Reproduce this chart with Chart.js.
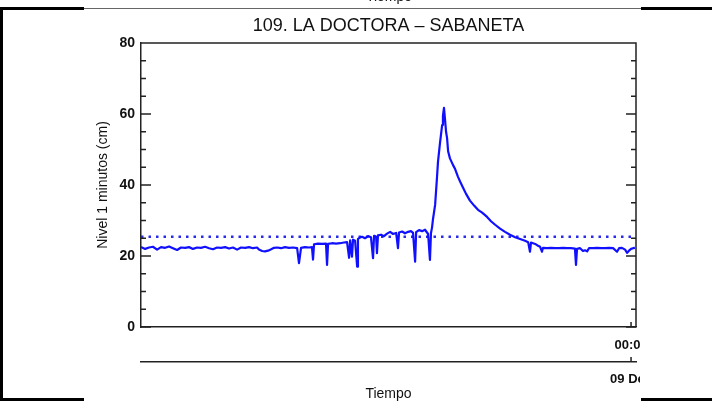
<!DOCTYPE html>
<html lang="es">
<head>
<meta charset="UTF-8">
<title>109. LA DOCTORA - SABANETA</title>
<script src="https://cdn.jsdelivr.net/npm/chart.js"></script>
<style>
    body { margin: 0; background: #fff; overflow: hidden; }
    #page { position: relative; width: 712px; height: 402px; font-family: "Liberation Sans", Arial, sans-serif; }
    #clip { position: absolute; left: 0; top: 0; width: 640px; height: 402px; overflow: hidden; }
    .bar { position: absolute; background: #000; }
    .thin { position: absolute; background: #666; }
    #prevTitle { position: absolute; top: -12px; left: 389px; transform: translateX(-50%); font-size: 14px; color: #111; }
</style>
</head>
<body>
<div id="page">
    <div id="clip"><canvas id="levelChart" width="712" height="402"></canvas></div>
    <!-- leftovers of the panel above / frame -->
    <div id="prevTitle">Tiempo</div>
    <div class="bar" style="left:0;top:7px;width:3px;height:394px"></div>
    <div class="bar" style="left:0;top:7px;width:84px;height:3px"></div>
    <div class="thin" style="left:84px;top:8px;width:557px;height:1px"></div>
    <div class="bar" style="left:641px;top:7px;width:71px;height:3px"></div>
    <div class="bar" style="left:0;top:398px;width:84px;height:3px"></div>
    <div class="bar" style="left:641px;top:398px;width:71px;height:3px"></div>
</div>

<script>
    // time in hours relative to 09 Dec 00:00
    const times = [
        -23.76, -23.56, -23.37, -23.18, -22.98, -22.79, -22.59, -22.40, -22.21, -22.01,
        -21.82, -21.62, -21.43, -21.24, -21.04, -20.85, -20.65, -20.46, -20.27, -20.07,
        -19.88, -19.68, -19.49, -19.30, -19.10, -18.91, -18.71, -18.52, -18.33, -18.13,
        -18.04, -17.89, -17.75, -17.60, -17.45, -17.31, -17.16, -16.97, -16.78, -16.58,
        -16.39, -16.19, -16.10, -16.00, -15.81, -15.61, -15.47, -15.42, -15.37, -15.18,
        -14.98, -14.79, -14.74, -14.69, -14.50, -14.30, -14.11, -13.92, -13.77, -13.67,
        -13.62, -13.53, -13.48, -13.38, -13.28, -13.24, -13.14, -13.04, -12.90, -12.75,
        -12.61, -12.51, -12.46, -12.36, -12.32, -12.27, -12.12, -11.98, -11.83, -11.68,
        -11.54, -11.39, -11.30, -11.25, -11.10, -10.96, -10.81, -10.67, -10.57, -10.47,
        -10.42, -10.28, -10.13, -9.99, -9.84, -9.75, -9.70, -9.65, -9.60, -9.50,
        -9.41, -9.36, -9.26, -9.16, -9.12, -9.07, -9.02, -8.97, -8.92, -8.87,
        -8.78, -8.63, -8.53, -8.39, -8.29, -8.15, -8.00, -7.81, -7.61, -7.42,
        -7.22, -6.98, -6.79, -6.59, -6.35, -6.11, -5.87, -5.62, -5.38, -5.14,
        -4.99, -4.90, -4.85, -4.65, -4.51, -4.41, -4.32, -4.27, -4.07, -3.88,
        -3.68, -3.49, -3.30, -3.10, -2.91, -2.72, -2.67, -2.62, -2.47, -2.33,
        -2.23, -2.13, -2.04, -1.84, -1.65, -1.45, -1.26, -1.07, -0.87, -0.68,
        -0.58, -0.44, -0.29, -0.19, -0.10, 0.00, 0.10, 0.19
    ];
    // nivel (cm)
    const levels = [
        22.5, 22.0, 22.4, 22.6, 21.8, 22.5, 22.3, 22.7, 22.2, 21.7,
        22.4, 22.3, 22.5, 22.0, 22.4, 22.3, 22.6, 22.2, 21.9, 22.4,
        22.3, 22.5, 22.1, 22.4, 21.8, 22.4, 22.3, 22.5, 22.2, 22.4,
        21.8, 21.4, 21.3, 21.5, 21.9, 22.3, 22.4, 22.2, 22.5, 22.3,
        22.4, 22.2, 18.0, 22.3, 22.5, 22.4, 22.5, 19.0, 23.3, 23.5,
        23.4, 23.5, 17.5, 23.4, 23.6, 23.5, 23.6, 23.8, 23.9, 19.5,
        24.4, 19.8, 24.6, 24.3, 17.0, 24.8, 25.2, 25.4, 25.0, 25.6,
        25.3, 19.4, 25.7, 25.4, 20.8, 25.8, 26.0, 25.6, 26.3, 26.8,
        26.2, 26.5, 22.2, 26.6, 26.9, 26.4, 26.8, 27.0, 26.5, 18.4,
        26.7, 27.3, 27.0, 27.4, 26.2, 18.9, 26.5, 28.0, 30.5, 34.4,
        42.0, 46.6, 52.0, 56.9, 59.5, 61.7, 58.5, 55.0, 53.2, 49.5,
        47.5, 45.6, 44.5, 42.3, 41.0, 39.3, 37.5, 35.6, 34.2, 33.0,
        32.2, 31.0, 29.8, 28.8, 27.7, 26.8, 26.0, 25.3, 24.8, 24.3,
        23.9, 21.2, 23.8, 23.4, 22.9, 22.6, 21.2, 22.3, 22.2, 22.3,
        22.2, 22.2, 22.3, 22.2, 22.2, 22.1, 17.5, 22.0, 22.2, 21.4,
        21.6, 21.3, 22.2, 22.2, 22.3, 22.2, 22.2, 22.3, 22.2, 21.2,
        22.2, 22.3, 21.8, 20.9, 21.5, 22.0, 22.2, 22.3
    ];
    const threshold = 25.4;
    const xMin = -23.76, xMax = 0.24;
    const yTicks = [0, 20, 40, 60, 80];
    const hourTicks = [0];
    const hourLabels = ['00:00'];
    const dayLabels = ['09 Dec'];

    const FONT = '"Liberation Sans", Arial, sans-serif';
    const axisColor = '#222';

    const points = times.map((t, i) => ({ x: t, y: levels[i] }));

    // frame top/right, inward ticks, titles
    const decor = {
        id: 'decor',
        afterDraw(chart) {
            const c = chart.ctx, a = chart.chartArea;
            const ys = chart.scales.y, xs = chart.scales.x, x2 = chart.scales.x2;
            c.save();
            c.strokeStyle = axisColor;
            c.lineWidth = 1.5;
            c.beginPath();
            c.moveTo(a.left, a.top); c.lineTo(a.right, a.top); c.lineTo(a.right, a.bottom);
            for (let v = 0; v <= 80; v += 5) {
                const py = ys.getPixelForValue(v);
                const len = yTicks.includes(v) ? 10 : 5;
                c.moveTo(a.left, py); c.lineTo(a.left + len, py);
                c.moveTo(a.right, py); c.lineTo(a.right - len, py);
            }
            hourTicks.forEach(h => {
                const px = xs.getPixelForValue(h);
                c.moveTo(px, a.bottom); c.lineTo(px, a.bottom - 5);
                c.moveTo(px, x2.top); c.lineTo(px, x2.top - 5);
            });
            c.stroke();

            c.fillStyle = '#111';
            c.textAlign = 'center';
            c.textBaseline = 'middle';
            c.font = '18px ' + FONT;
            c.fillText('109. LA DOCTORA \u2013 SABANETA', (a.left + a.right) / 2, 26);
            c.font = '14px ' + FONT;
            c.fillText('Tiempo', (a.left + a.right) / 2, 394);
            c.translate(103, (a.top + a.bottom) / 2);
            c.rotate(-Math.PI / 2);
            c.fillText('Nivel 1 minutos (cm)', 0, 0);
            c.restore();
        }
    };

    const ctx = document.getElementById('levelChart').getContext('2d');
    const chart = new Chart(ctx, {
        type: 'line',
        data: {
            datasets: [
                {
                    data: points,
                    borderColor: '#1010ff',
                    borderWidth: 2.2,
                    borderJoinStyle: 'round',
                    pointRadius: 0,
                    tension: 0,
                    xAxisID: 'x'
                },
                {
                    data: [{ x: xMin, y: threshold }, { x: xMax, y: threshold }],
                    borderColor: '#2a2aee',
                    borderWidth: 2.5,
                    borderDash: [2.5, 5],
                    borderCapStyle: 'butt',
                    pointRadius: 0,
                    xAxisID: 'x'
                }
            ]
        },
        options: {
            responsive: false,
            animation: false,
            events: [],
            layout: { padding: { left: 0, top: 43, right: 76, bottom: 0 } },
            plugins: { legend: { display: false }, tooltip: { enabled: false }, title: { display: false } },
            scales: {
                x: {
                    type: 'linear', position: 'bottom', min: xMin, max: xMax,
                    afterBuildTicks: s => { s.ticks = hourTicks.map(v => ({ value: v })); },
                    afterFit: s => { s.height = 35; },
                    grid: { display: false, drawTicks: false },
                    border: { display: true, color: axisColor, width: 1.5 },
                    ticks: {
                        autoSkip: false, maxRotation: 0, padding: 11, color: '#111',
                        font: { family: FONT, size: 13, weight: 'bold' },
                        callback: (v) => hourLabels[hourTicks.indexOf(v)]
                    }
                },
                x2: {
                    type: 'linear', position: 'bottom', min: xMin, max: xMax,
                    afterBuildTicks: s => { s.ticks = hourTicks.map(v => ({ value: v })); },
                    afterFit: s => { s.height = 40; },
                    grid: { display: false, drawTicks: false },
                    border: { display: true, color: axisColor, width: 1.5 },
                    ticks: {
                        autoSkip: false, maxRotation: 0, padding: 10, color: '#111',
                        font: { family: FONT, size: 13, weight: 'bold' },
                        callback: (v) => dayLabels[hourTicks.indexOf(v)]
                    }
                },
                y: {
                    min: 0, max: 80,
                    afterFit: s => { s.width = 141; },
                    grid: { display: false, drawTicks: false },
                    border: { display: true, color: axisColor, width: 1.5 },
                    ticks: {
                        stepSize: 5, autoSkip: false, padding: 6, color: '#111',
                        font: { family: FONT, size: 14, weight: 'bold' },
                        callback: v => yTicks.includes(v) ? String(v) : ''
                    }
                }
            }
        },
        plugins: [decor]
    });
</script>
</body>
</html>
